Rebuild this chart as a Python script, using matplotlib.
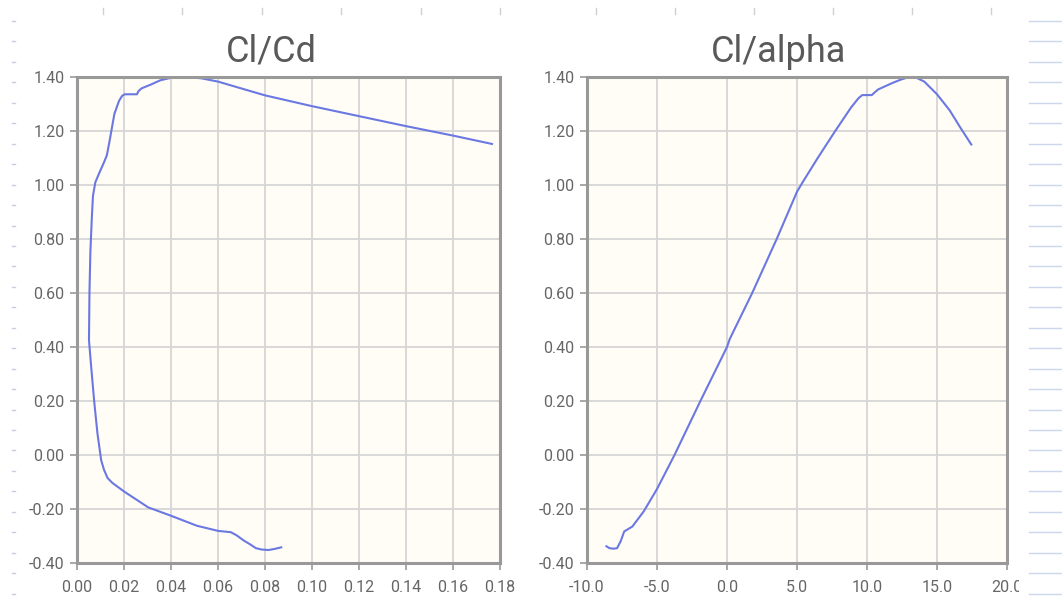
import numpy as np
import matplotlib
matplotlib.use("Agg")
from matplotlib import pyplot as plt
from matplotlib.lines import Line2D
from matplotlib.patches import Rectangle
from matplotlib.ticker import FixedLocator, FormatStrFormatter

# drag polar: Cd against Cl, ordered from negative to positive stall
cd_polar = [0.0869, 0.0840, 0.0814, 0.0785, 0.0761, 0.0735, 0.0710, 0.0680,
            0.0655, 0.0600, 0.0510, 0.0400, 0.0303, 0.0200, 0.0150, 0.0130,
            0.0115, 0.0103, 0.0095, 0.0087, 0.0073, 0.0060, 0.0051, 0.0053,
            0.0057, 0.0063, 0.0068, 0.0078, 0.0095, 0.0113, 0.0127, 0.0138,
            0.0159, 0.0179, 0.0192, 0.0203, 0.0255, 0.0262, 0.0275, 0.0317,
            0.0355, 0.0400, 0.0469, 0.0530, 0.0600, 0.0690, 0.0800, 0.1000,
            0.1200, 0.1400, 0.1600, 0.1766]
cl_polar = [-0.342, -0.348, -0.352, -0.350, -0.345, -0.330, -0.317, -0.298,
            -0.286, -0.281, -0.262, -0.225, -0.194, -0.135, -0.103, -0.085,
            -0.055, -0.020, 0.030, 0.080, 0.200, 0.330, 0.425, 0.600,
            0.755, 0.877, 0.960, 1.010, 1.045, 1.080, 1.110, 1.160,
            1.263, 1.312, 1.330, 1.336, 1.336, 1.348, 1.358, 1.373,
            1.388, 1.397, 1.400, 1.395, 1.383, 1.360, 1.332, 1.292,
            1.255, 1.218, 1.183, 1.152]

# lift curve: Cl against angle of attack (deg)
alpha = [-8.61, -8.40, -8.10, -7.85, -7.60, -7.34, -6.76, -5.95, -5.00,
         -3.75, -1.90, 0.00, 0.20, 1.80, 3.55, 5.00, 5.40, 6.48, 7.73,
         8.86, 9.40, 9.66, 10.34, 10.55, 10.80, 11.82, 12.40, 12.95,
         13.50, 14.09, 15.00, 15.90, 16.70, 17.45]
cl_alpha = [-0.338, -0.345, -0.347, -0.345, -0.320, -0.283, -0.265, -0.209,
            -0.126, 0.000, 0.200, 0.400, 0.430, 0.600, 0.800, 0.975, 1.010,
            1.100, 1.200, 1.287, 1.322, 1.333, 1.333, 1.343, 1.354, 1.378,
            1.390, 1.399, 1.398, 1.383, 1.336, 1.277, 1.210, 1.150]

cl_ticks = [-0.4, -0.2, 0.0, 0.2, 0.4, 0.6, 0.8, 1.0, 1.2, 1.4]
cd_ticks = [0.00, 0.02, 0.04, 0.06, 0.08, 0.10, 0.12, 0.14, 0.16, 0.18]
alpha_ticks = [-10.0, -5.0, 0.0, 5.0, 10.0, 15.0, 20.0]

W, H = 1062, 598
LINE = '#6b78e2'
plt.rcParams['font.family'] = ['Roboto', 'DejaVu Sans']


def px(x0, y0, x1, y1):
    """pixel box (top-left origin) -> figure fraction rect"""
    return [x0 / W, 1 - y1 / H, (x1 - x0) / W, (y1 - y0) / H]


def style_axes(ax, xticks, yticks, xfmt):
    ax.set_facecolor('#fffdf6')
    for s in ax.spines.values():
        s.set_color('#999999')
        s.set_linewidth(2.2)
    ax.xaxis.set_major_locator(FixedLocator(xticks))
    ax.yaxis.set_major_locator(FixedLocator(yticks))
    ax.xaxis.set_major_formatter(FormatStrFormatter(xfmt))
    ax.yaxis.set_major_formatter(FormatStrFormatter('%.2f'))
    ax.set_xlim(xticks[0], xticks[-1])
    ax.set_ylim(yticks[0], yticks[-1])
    ax.grid(True, color='#d6d6d6', linewidth=1.3)
    ax.set_axisbelow(True)
    ax.tick_params(axis='both', colors='#999999', labelcolor='#666666',
                   labelsize=11.5, length=5, width=1.2)
    ax.tick_params(axis='x', pad=7)
    ax.tick_params(axis='y', pad=4)


fig = plt.figure(figsize=(W / 100, H / 100), dpi=100)
fig.patch.set_facecolor('white')

ax1 = fig.add_axes(px(77, 77, 500, 563))
style_axes(ax1, cd_ticks, cl_ticks, '%.2f')
ax1.plot(cd_polar, cl_polar, color=LINE, linewidth=1.5, solid_joinstyle='round')

ax2 = fig.add_axes(px(587, 77, 1007, 563))
style_axes(ax2, alpha_ticks, cl_ticks, '%.1f')
ax2.plot(alpha, cl_alpha, color=LINE, linewidth=1.5, solid_joinstyle='round')

fig.text(271 / W, 1 - 62 / H, 'Cl/Cd', ha='center', va='baseline',
         fontsize=26, color='#595959')
fig.text(779 / W, 1 - 62 / H, 'Cl/alpha', ha='center', va='baseline',
         fontsize=26, color='#595959')

# page furniture around the charts
fig.add_artist(Rectangle((1019 / W, 0), 1 - 1019 / W, 1, transform=fig.transFigure,
                         facecolor='white', edgecolor='none', zorder=5))
for y in np.arange(21, 598, 20.45):
    fig.add_artist(Line2D([1029 / W, 1], [1 - y / H] * 2, transform=fig.transFigure,
                          color='#cdd6ef', linewidth=1, zorder=6))
    fig.add_artist(Line2D([12 / W, 15 / W], [1 - y / H] * 2, transform=fig.transFigure,
                          color='#c8cfdf', linewidth=1, zorder=6))
for x in list(np.arange(103, 501, 79.4)) + list(np.arange(596, 992, 79)):
    fig.add_artist(Line2D([x / W] * 2, [1 - 8 / H, 1 - 14 / H], transform=fig.transFigure,
                          color='#d0d0d0', linewidth=1, zorder=6))

fig.savefig('out.png', dpi=100)
